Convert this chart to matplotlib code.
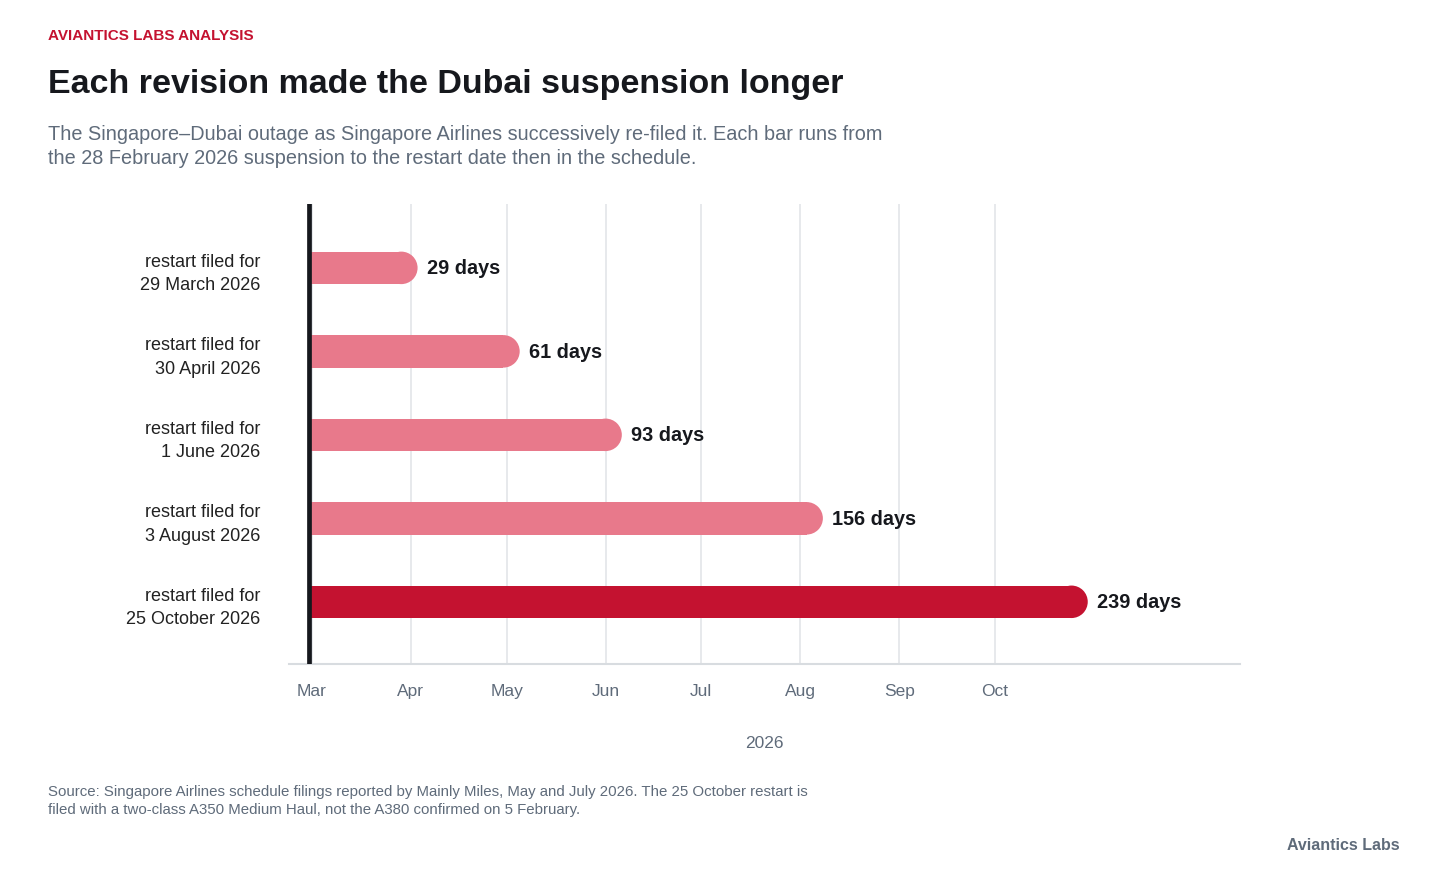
import numpy as np
import matplotlib
matplotlib.use("Agg")
import matplotlib.pyplot as plt
import matplotlib.dates as mdates
from datetime import date

plt.rcParams['font.family'] = ['Liberation Sans', 'DejaVu Sans']

# data
suspension_start = date(2026, 2, 28)
restart_labels = ["restart filed for\n29 March 2026",
                  "restart filed for\n30 April 2026",
                  "restart filed for\n1 June 2026",
                  "restart filed for\n3 August 2026",
                  "restart filed for\n25 October 2026"]
outage_days = [29, 61, 93, 156, 239]
month_ticks = [date(2026, m, 1) for m in range(3, 11)]
month_labels = ["Mar", "Apr", "May", "Jun", "Jul", "Aug", "Sep", "Oct"]

RED = "#c41230"
PINK = "#e8798b"
INK = "#16181d"
GREY = "#5f6b7a"

fig = plt.figure(figsize=(14.4, 8.79), dpi=100)
ax = fig.add_axes([289/1440, 1 - 665/879, (1240 - 289)/1440, (665 - 205)/879])

start = mdates.date2num(suspension_start)
ypos = np.arange(len(outage_days))
colours = [PINK] * (len(outage_days) - 1) + [RED]

bar_h = 32.5 / 83.5
ax.barh(ypos, outage_days, left=start, height=bar_h, color=colours, zorder=3)
# round caps on the right end
cap_pt = 32.5 * 72 / 100
ends = start + np.array(outage_days)
ax.scatter(ends, ypos, s=cap_pt ** 2, c=colours, marker='o', linewidths=0, zorder=3)

for y, d, e in zip(ypos, outage_days, ends):
    ax.annotate(f"{d} days", (e, y), xytext=(18.5, 0), textcoords='offset points',
                ha='left', va='center', fontsize=14.3, fontweight='bold', color=INK)

ax.axvline(start, color=INK, lw=3.4, zorder=4)

ax.set_ylim(len(outage_days) - 1 + 0.745, -0.765)
ax.set_xlim(start - 6.2, start + 291.8)
ax.set_yticks(ypos)
ax.set_yticklabels(restart_labels, fontsize=13, color="#222222", linespacing=1.5)
ax.set_xticks([mdates.date2num(m) for m in month_ticks])
ax.set_xticklabels(month_labels, fontsize=12.5, color=GREY)
ax.tick_params(axis='y', length=0, pad=20.5)
ax.tick_params(axis='x', length=0, pad=13.5)
ax.set_xlabel("2026", fontsize=12.5, color=GREY, labelpad=26.5)

ax.grid(axis='x', color="#e5e7eb", lw=1.3, zorder=0)
ax.set_axisbelow(True)
for s in ['top', 'right', 'left']:
    ax.spines[s].set_visible(False)
ax.spines['bottom'].set_color("#d8dce0")
ax.spines['bottom'].set_linewidth(1.5)

fig.text(48/1440, 1 - 36/879, "AVIANTICS LABS ANALYSIS", fontsize=11, fontweight='bold',
         color=RED, ha='left', va='center')
fig.text(48/1440, 1 - 85/879, "Each revision made the Dubai suspension longer", fontsize=24.5,
         fontweight='bold', color=INK, ha='left', va='center')
fig.text(48/1440, 1 - 125/879,
         "The Singapore\u2013Dubai outage as Singapore Airlines successively re-filed it. Each bar runs from\n"
         "the 28 February 2026 suspension to the restart date then in the schedule.",
         fontsize=14.35, color=GREY, ha='left', va='top', linespacing=1.32)
fig.text(48/1440, 1 - 785/879,
         "Source: Singapore Airlines schedule filings reported by Mainly Miles, May and July 2026. The 25 October restart is\n"
         "filed with a two-class A350 Medium Haul, not the A380 confirmed on 5 February.",
         fontsize=10.77, color=GREY, ha='left', va='top', linespacing=1.38)
fig.text(1400/1440, 1 - 846/879, "Aviantics Labs", fontsize=11.5, fontweight='bold',
         color=GREY, ha='right', va='center')

fig.savefig("out.png", dpi=100, facecolor='white')
